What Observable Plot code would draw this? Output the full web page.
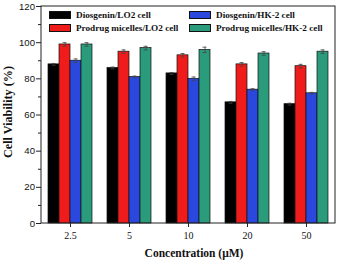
<!DOCTYPE html>
<html>
<head>
<meta charset="utf-8">
<script src="https://cdn.jsdelivr.net/npm/d3@7"></script>
<script src="https://cdn.jsdelivr.net/npm/@observablehq/plot@0.6"></script>
<style>
  html, body { margin: 0; padding: 0; background: #fff; }
  #wrap { position: relative; width: 339px; height: 264px; }
  #legend { position: absolute; left: 49px; top: 10px; display: grid;
    grid-template-columns: 140px 146px; row-gap: 3px;
    font-family: "Liberation Serif", "Times New Roman", serif; font-weight: bold; font-size: 9.2px; color: #111; }
  .item { display: flex; align-items: center; height: 10px; }
  .sw { width: 22px; height: 8.5px; border: 0.8px solid #111; margin-right: 5px; box-sizing: border-box; }
</style>
</head>
<body>
<div id="wrap"></div>
<script>
const concentrations = ["2.5", "5", "10", "20", "50"];
const series = ["Diosgenin/LO2 cell", "Prodrug micelles/LO2 cell", "Diosgenin/HK-2 cell", "Prodrug micelles/HK-2 cell"];
const colors = ["#000000", "#f01c1c", "#2b48de", "#2a9b7b"];
const legendOrder = ["Diosgenin/LO2 cell", "Diosgenin/HK-2 cell", "Prodrug micelles/LO2 cell", "Prodrug micelles/HK-2 cell"];

const diosgeninLO2 = [88, 86, 83, 67, 66];
const micellesLO2 = [99, 95, 93, 88, 87];
const diosgeninHK2 = [90, 81, 80, 74, 72];
const micellesHK2 = [99, 97, 96, 94, 95];

const errDiosgeninLO2 = [0.5, 0.5, 0.5, 0.5, 0.5];
const errMicellesLO2 = [1, 1, 1, 1, 1];
const errDiosgeninHK2 = [1, 0.5, 1, 0.5, 0.5];
const errMicellesHK2 = [1, 1, 1.5, 1, 1];

const majorTicks = [0, 20, 40, 60, 80, 100, 120];
const minorTicks = [10, 30, 50, 70, 90, 110];

const values = [diosgeninLO2, micellesLO2, diosgeninHK2, micellesHK2];
const errors = [errDiosgeninLO2, errMicellesLO2, errDiosgeninHK2, errMicellesHK2];
const data = [];
concentrations.forEach((c, i) => series.forEach((s, j) => data.push({conc: c, series: s, value: values[j][i], err: errors[j][i]})));

const W = 339, H = 264, mL = 41, mR = 4, mT = 6, mB = 41;

const plot = Plot.plot({
  width: W, height: H, marginLeft: mL, marginRight: mR, marginTop: mT, marginBottom: mB,
  style: {background: "white", overflow: "visible"},
  fx: {domain: concentrations, paddingInner: 0.025, paddingOuter: 0, label: null},
  x: {domain: series, paddingInner: 0, paddingOuter: 0.42, axis: null},
  y: {domain: [0, 120], label: null},
  color: {domain: series, range: colors},
  marks: [
    Plot.barY(data, {fx: "conc", x: "series", y: "value", fill: "series", stroke: "#111", strokeWidth: 0.7}),
    Plot.ruleX(data, {fx: "conc", x: "series", y1: d => d.value - d.err, y2: d => d.value + d.err, stroke: "#444", strokeWidth: 0.8}),
    Plot.tickY(data, {fx: "conc", x: "series", y: d => d.value + d.err, insetLeft: 3.5, insetRight: 3.5, stroke: "#444", strokeWidth: 0.8}),
    Plot.tickY(data, {fx: "conc", x: "series", y: d => d.value - d.err, insetLeft: 3.5, insetRight: 3.5, stroke: "#444", strokeWidth: 0.8}),
    Plot.axisY({ticks: minorTicks, tickSize: 3, tickFormat: () => "", label: null, stroke: "#222"}),
    Plot.axisY({ticks: majorTicks, tickSize: 5, tickPadding: 1.5, label: null, stroke: "#222",
      fontFamily: "Liberation Sans, Arial, sans-serif", fontSize: 9.6, fill: "#111"}),
    Plot.axisFx({anchor: "bottom", tickSize: 4, tickPadding: 4, label: null, stroke: "#222",
      fontFamily: "Liberation Serif, Times New Roman, serif", fontSize: 10, fill: "#111"})
  ]
});

const svg = d3.select(plot);
svg.append("rect").attr("x", mL).attr("y", mT).attr("width", W - mL - mR).attr("height", H - mT - mB)
  .attr("fill", "none").attr("stroke", "#222").attr("stroke-width", 1);
svg.append("text").attr("x", 194).attr("y", 257).attr("text-anchor", "middle")
  .attr("font-family", "Liberation Serif, Times New Roman, serif").attr("font-weight", "bold").attr("font-size", 11.5)
  .attr("fill", "#111").text("Concentration (μM)");
svg.append("text").attr("transform", "translate(11.5,112) rotate(-90)").attr("text-anchor", "middle")
  .attr("font-family", "Liberation Serif, Times New Roman, serif").attr("font-weight", "bold").attr("font-size", 12.2)
  .attr("fill", "#111").text("Cell Viability (%)");

const wrap = document.getElementById("wrap");
wrap.appendChild(plot);
const legend = document.createElement("div");
legend.id = "legend";
legendOrder.forEach(s => {
  const item = document.createElement("div");
  item.className = "item";
  const sw = document.createElement("span");
  sw.className = "sw";
  sw.style.background = colors[series.indexOf(s)];
  const t = document.createElement("span");
  t.textContent = s;
  item.appendChild(sw); item.appendChild(t);
  legend.appendChild(item);
});
wrap.appendChild(legend);
</script>
</body>
</html>
